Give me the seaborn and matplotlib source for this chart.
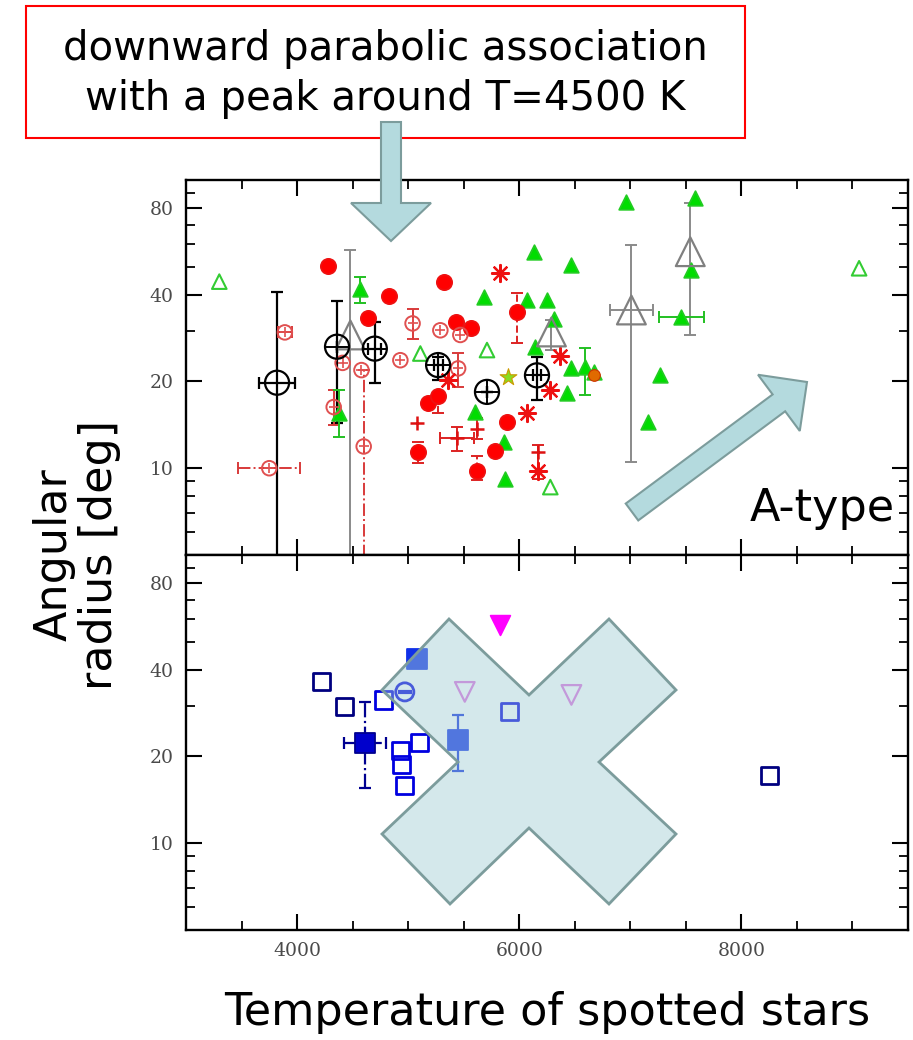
import numpy as np
import pandas as pd
import matplotlib
matplotlib.use("Agg")
import matplotlib.pyplot as plt
from matplotlib.patches import Polygon, Rectangle
from matplotlib.ticker import FixedLocator, MultipleLocator, NullFormatter, FuncFormatter
import seaborn as sns

# ---------------------------------------------------------------
# Angular radius of star spots versus temperature of the star
# ---------------------------------------------------------------

# ---- upper panel ----
red_fill_T = [4280, 4830, 4640, 5320, 5430, 5570, 5980, 5180, 5270, 5090, 5620, 5780, 5890]
red_fill_R = [50.3, 39.6, 33.2, 44.2, 32.2, 30.7, 34.9, 16.8, 17.8, 11.4, 9.8, 11.5, 14.5]
red_fill_eT = [5980, 5090, 5620, 5270]
red_fill_eR = [34.9, 11.4, 9.8, 17.8]
red_fill_lo = [27.1, 10.4, 9.1, 15.6]
red_fill_hi = [40.5, 12.3, 11.0, 17.8]

red_open_T = [3890, 3750, 4330, 4410, 4580, 4600, 5040, 4930, 5290, 5470, 5450]
red_open_R = [29.6, 10.0, 16.3, 23.2, 21.9, 11.9, 31.8, 23.7, 30.1, 29.0, 22.2]
red_open_eT = [5040, 5450, 4330, 3890]
red_open_eR = [31.8, 22.2, 16.3, 29.6]
red_open_lo = [28.0, 19.2, 14.1, 29.6]
red_open_hi = [35.6, 25.1, 18.7, 29.6]
red_open_Terr = [0, 0, 0, 60]
red_dash_T = [3750, 4600]
red_dash_R = [10.0, 11.9]
red_dash_lo = [10.0, 3.0]
red_dash_hi = [10.0, 21.9]
red_dash_Terr = [280, 0]

red_star_T = [5830, 6370, 6070, 6170, 5360, 6280]
red_star_R = [47.6, 24.5, 15.5, 9.8, 20.2, 18.7]

red_plus_T = [5440, 5080, 6170, 5620]
red_plus_R = [12.7, 14.3, 11.4, 13.7]
red_plus_eT = [5440, 6170, 5620]
red_plus_eR = [12.7, 11.4, 13.7]
red_plus_lo = [11.5, 9.2, 12.6]
red_plus_hi = [13.9, 12.0, 14.9]
red_plus_Terr = [150, 0, 0]

green_T = [4570, 4380, 5680, 6070, 6250, 6310, 6140, 6470, 6130, 6470, 5860,
           5870, 5600, 6430, 6670, 6590, 7270, 7160, 7460, 7550, 6960, 7580]
green_R = [42.0, 15.6, 39.3, 38.3, 38.3, 33.0, 26.4, 50.7, 56.4, 22.2, 12.3,
           9.2, 15.7, 18.2, 21.6, 22.5, 21.0, 14.5, 33.5, 48.7, 84.1, 86.4]
green_eT = [4570, 4380, 7460, 6590]
green_eR = [42.0, 15.6, 33.5, 22.5]
green_lo = [37.4, 12.8, 33.5, 17.9]
green_hi = [46.1, 18.7, 33.5, 26.1]
green_Terr = [0, 0, 200, 0]

green_open_T = [3300, 5110, 5710, 6280, 9060]
green_open_R = [44.4, 25.0, 25.7, 8.6, 49.4]

gray_T = [4480, 6290, 7010, 7540]
gray_R = [29.0, 29.7, 35.4, 56.4]
gray_lo = [3.0, 25.7, 10.5, 29.0]
gray_hi = [57.1, 32.7, 59.5, 83.0]
gray_Terr = [0, 0, 195, 0]

black_T = [3820, 4360, 4700, 5270, 5710, 6160]
black_R = [19.8, 26.4, 26.0, 22.8, 18.4, 21.0]
black_lo = [3.0, 14.3, 19.8, 20.2, 18.4, 17.2]
black_hi = [41.0, 38.0, 32.2, 24.4, 18.4, 24.4]
black_Terr = [160, 0, 60, 40, 0, 40]

lime_T, lime_R = [5900], [20.7]
orange_T, orange_R = [6670], [21.0]

# ---- lower panel ----
navy_open_T = [4220, 4430, 8250]
navy_open_R = [36.3, 29.7, 17.2]
blue_open_T = [4780, 4930, 4940, 5100, 4970, 5910]
blue_open_R = [31.4, 21.0, 18.7, 22.4, 15.9, 28.6]
blue_ring_T, blue_ring_R = [4970], [33.5]
blue_fill_T = [5080, 5450]
blue_fill_R = [43.7, 22.8]
blue_fill_eT, blue_fill_eR = [5450], [22.8]
blue_fill_lo, blue_fill_hi = [17.8], [27.8]
navy_fill_T, navy_fill_R = [4610], [22.2]
navy_fill_lo, navy_fill_hi = [15.5], [31.0]
navy_fill_Terr = [190]
magenta_T, magenta_R = [5830], [57.1]
violet_T, violet_R = [5510, 6470], [33.5, 32.7]

# axis settings
x_range = (3000, 9500)
y_range = (5, 100)
x_major = [4000, 6000, 8000]
y_major = [10, 20, 40, 80]
y_minor = [5, 6, 7, 8, 9, 30, 50, 60, 70, 90, 100]

sns.set_theme(style="ticks")
plt.rcParams["font.family"] = ["DejaVu Serif"]

fig = plt.figure(figsize=(9.13, 10.4), dpi=100)
ax_top = fig.add_axes([0.2037, 0.46635, 0.7908, 0.36058])
ax_bot = fig.add_axes([0.2037, 0.10577, 0.7908, 0.36058])


def pts(ax, T, R, marker, size, face=None, edge=None, color=None, lw=1.3, z=3, alpha=1.0):
    df = pd.DataFrame({"T": T, "R": R})
    kw = dict(data=df, x="T", y="R", ax=ax, marker=marker, s=size, linewidth=lw,
              zorder=z, legend=False, alpha=alpha)
    if color is not None:
        kw["color"] = color
    else:
        kw["facecolor"] = face
        kw["edgecolor"] = edge
    sns.scatterplot(**kw)


def bars(ax, T, R, lo, hi, Terr, color, ls="-", lw=1.4, cap=4, z=2, alpha=1.0):
    T = np.asarray(T, float)
    R = np.asarray(R, float)
    yerr = [R - np.asarray(lo, float), np.asarray(hi, float) - R]
    eb = ax.errorbar(T, R, yerr=yerr, xerr=Terr, fmt="none", ecolor=color,
                     elinewidth=lw, capsize=cap, capthick=lw, zorder=z, alpha=alpha)
    for lc in eb[2]:
        lc.set_linestyle(ls)


def style(ax, labels_x):
    ax.set_yscale("log")
    ax.set_xlim(*x_range)
    ax.set_ylim(*y_range)
    ax.xaxis.set_major_locator(FixedLocator(x_major))
    ax.xaxis.set_minor_locator(MultipleLocator(500))
    ax.yaxis.set_major_locator(FixedLocator(y_major))
    ax.yaxis.set_minor_locator(FixedLocator(y_minor))
    ax.yaxis.set_major_formatter(FuncFormatter(lambda v, _: f"{v:g}"))
    ax.yaxis.set_minor_formatter(NullFormatter())
    ax.xaxis.set_major_formatter(FuncFormatter(lambda v, _: f"{v:g}"))
    ax.tick_params(which="both", direction="in", top=True, right=True,
                   color="black", labelcolor="#4a4a4a", labelsize=13.5)
    ax.tick_params(which="major", length=11.5, width=1.5, pad=9)
    ax.tick_params(which="minor", length=6.5, width=1.3)
    if not labels_x:
        ax.tick_params(axis="x", labelbottom=False)
    for s in ax.spines.values():
        s.set_color("black")
        s.set_linewidth(1.7)
    ax.set_xlabel("")
    ax.set_ylabel("")


# ---- upper panel marks ----
bars(ax_top, black_T, black_R, black_lo, black_hi, black_Terr, "black", lw=1.6)
bars(ax_top, gray_T, gray_R, gray_lo, gray_hi, gray_Terr, "#8a8a8a", lw=1.4)
bars(ax_top, red_fill_eT, red_fill_eR, red_fill_lo, red_fill_hi, 0, "#dd2222", ls="--")
bars(ax_top, red_open_eT, red_open_eR, red_open_lo, red_open_hi, red_open_Terr, "#d83a3a")
bars(ax_top, red_dash_T, red_dash_R, red_dash_lo, red_dash_hi, red_dash_Terr, "#d83a3a", ls="-.")
bars(ax_top, red_plus_eT, red_plus_eR, red_plus_lo, red_plus_hi, red_plus_Terr, "#dd2222")
bars(ax_top, green_eT, green_eR, green_lo, green_hi, green_Terr, "#22c022")

pts(ax_top, green_T, green_R, "^", 110, face="#00dd00", edge="#22cc22", z=3)
pts(ax_top, green_open_T, green_open_R, "^", 110, face="none", edge="#33cc33", lw=1.5, z=3)
pts(ax_top, red_fill_T, red_fill_R, "o", 120, face="#ff0000", edge="#ee1111", z=4)
pts(ax_top, red_open_T, red_open_R, "o", 110, face="none", edge="#e05050", lw=1.4, z=4)
pts(ax_top, red_open_T, red_open_R, "+", 45, color="#e05050", lw=1.2, z=4)
pts(ax_top, red_star_T, red_star_R, (8, 2, 0), 150, color="#ee1111", lw=1.6, z=4)
pts(ax_top, red_plus_T, red_plus_R, "+", 110, color="#dd1111", lw=1.8, z=4)
pts(ax_top, lime_T, lime_R, "*", 160, face="#88dd22", edge="#cc9900", lw=0.8, z=4)
pts(ax_top, orange_T, orange_R, "o", 70, face="#e06a00", edge="#cc3300", lw=0.8, z=4)
pts(ax_top, gray_T, gray_R, "^", 430, face="none", edge="#808080", lw=1.6, z=5)
pts(ax_top, black_T, black_R, "o", 300, face="none", edge="black", lw=1.6, z=5)
pts(ax_top, black_T, black_R, "+", 300, color="black", lw=1.4, z=5)

# ---- lower panel marks ----
bars(ax_bot, navy_fill_T, navy_fill_R, navy_fill_lo, navy_fill_hi, navy_fill_Terr, "#000090", ls="-.", lw=1.6)
bars(ax_bot, blue_fill_eT, blue_fill_eR, blue_fill_lo, blue_fill_hi, 0, "#1030e0", lw=1.6)
pts(ax_bot, navy_open_T, navy_open_R, "s", 150, face="none", edge="#000080", lw=2.0, z=3)
pts(ax_bot, blue_open_T, blue_open_R, "s", 150, face="none", edge="#0000e0", lw=2.0, z=3)
pts(ax_bot, blue_ring_T, blue_ring_R, "o", 170, face="none", edge="#0000e0", lw=2.0, z=3)
pts(ax_bot, blue_ring_T, blue_ring_R, "_", 90, color="#0000e0", lw=3.0, z=3)
pts(ax_bot, blue_fill_T, blue_fill_R, "s", 190, face="#1030e8", edge="#1030e8", z=3)
pts(ax_bot, navy_fill_T, navy_fill_R, "s", 190, face="#0000cc", edge="#000090", z=3)
pts(ax_bot, magenta_T, magenta_R, "v", 200, face="#ff00ff", edge="#ff00ff", z=3)
pts(ax_bot, violet_T, violet_R, "v", 200, face="none", edge="#e070e0", lw=1.6, z=3)

style(ax_top, False)
style(ax_bot, True)

# ---- annotation layer in pixel coordinates ----
ov = fig.add_axes([0, 0, 1, 1], zorder=10)
ov.set_xlim(0, 913)
ov.set_ylim(1040, 0)
ov.axis("off")
ov.patch.set_alpha(0)

arrow_face = "#b4dade"
arrow_edge = "#7c9c9c"


def block_arrow(tail, tip, stem_hw, head_hw, head_len, **kw):
    tail = np.asarray(tail, float)
    tip = np.asarray(tip, float)
    d = tip - tail
    u = d / np.hypot(*d)
    n = np.array([-u[1], u[0]])
    base = tip - u * head_len
    verts = [tail + n * stem_hw, base + n * stem_hw, base + n * head_hw, tip,
             base - n * head_hw, base - n * stem_hw, tail - n * stem_hw]
    return Polygon(verts, closed=True, **kw)


ov.add_patch(Rectangle((26, 6), 719, 132, facecolor="white", edgecolor="#ff0000",
                       linewidth=1.5, zorder=1))
ov.text(385, 74, "downward parabolic association\nwith a peak around T=4500 K",
        ha="center", va="center", fontsize=29, family="DejaVu Sans",
        color="black", linespacing=1.35, zorder=2)

ov.add_patch(block_arrow((391, 122), (391, 241), 10, 40, 38, facecolor=arrow_face,
                         edgecolor=arrow_edge, linewidth=1.5, zorder=3))
ov.add_patch(block_arrow((632, 512), (807, 382), 10.5, 35, 35, facecolor=arrow_face,
                         edgecolor=arrow_edge, linewidth=1.5, zorder=3))

cross = [(529, 695), (609, 619), (676, 690), (599, 762), (676, 834), (609, 904),
         (529, 828), (450, 904), (382, 834), (458, 762), (382, 690), (449, 619)]
ov.add_patch(Polygon(cross, closed=True, facecolor=(0.63, 0.80, 0.83, 0.45),
                     edgecolor=arrow_edge, linewidth=2.0, zorder=3))

ov.text(822, 508, "A-type", ha="center", va="center", fontsize=32,
        family="DejaVu Sans", color="black")
ov.text(547, 1013, "Temperature of spotted stars", ha="center", va="center",
        fontsize=32, family="DejaVu Sans", color="black")
ov.text(77, 555, "Angular\nradius [deg]", ha="center", va="center", rotation=90,
        fontsize=32, family="DejaVu Sans", color="black", linespacing=1.05,
        multialignment="center")

fig.savefig("out.png", dpi=100)
